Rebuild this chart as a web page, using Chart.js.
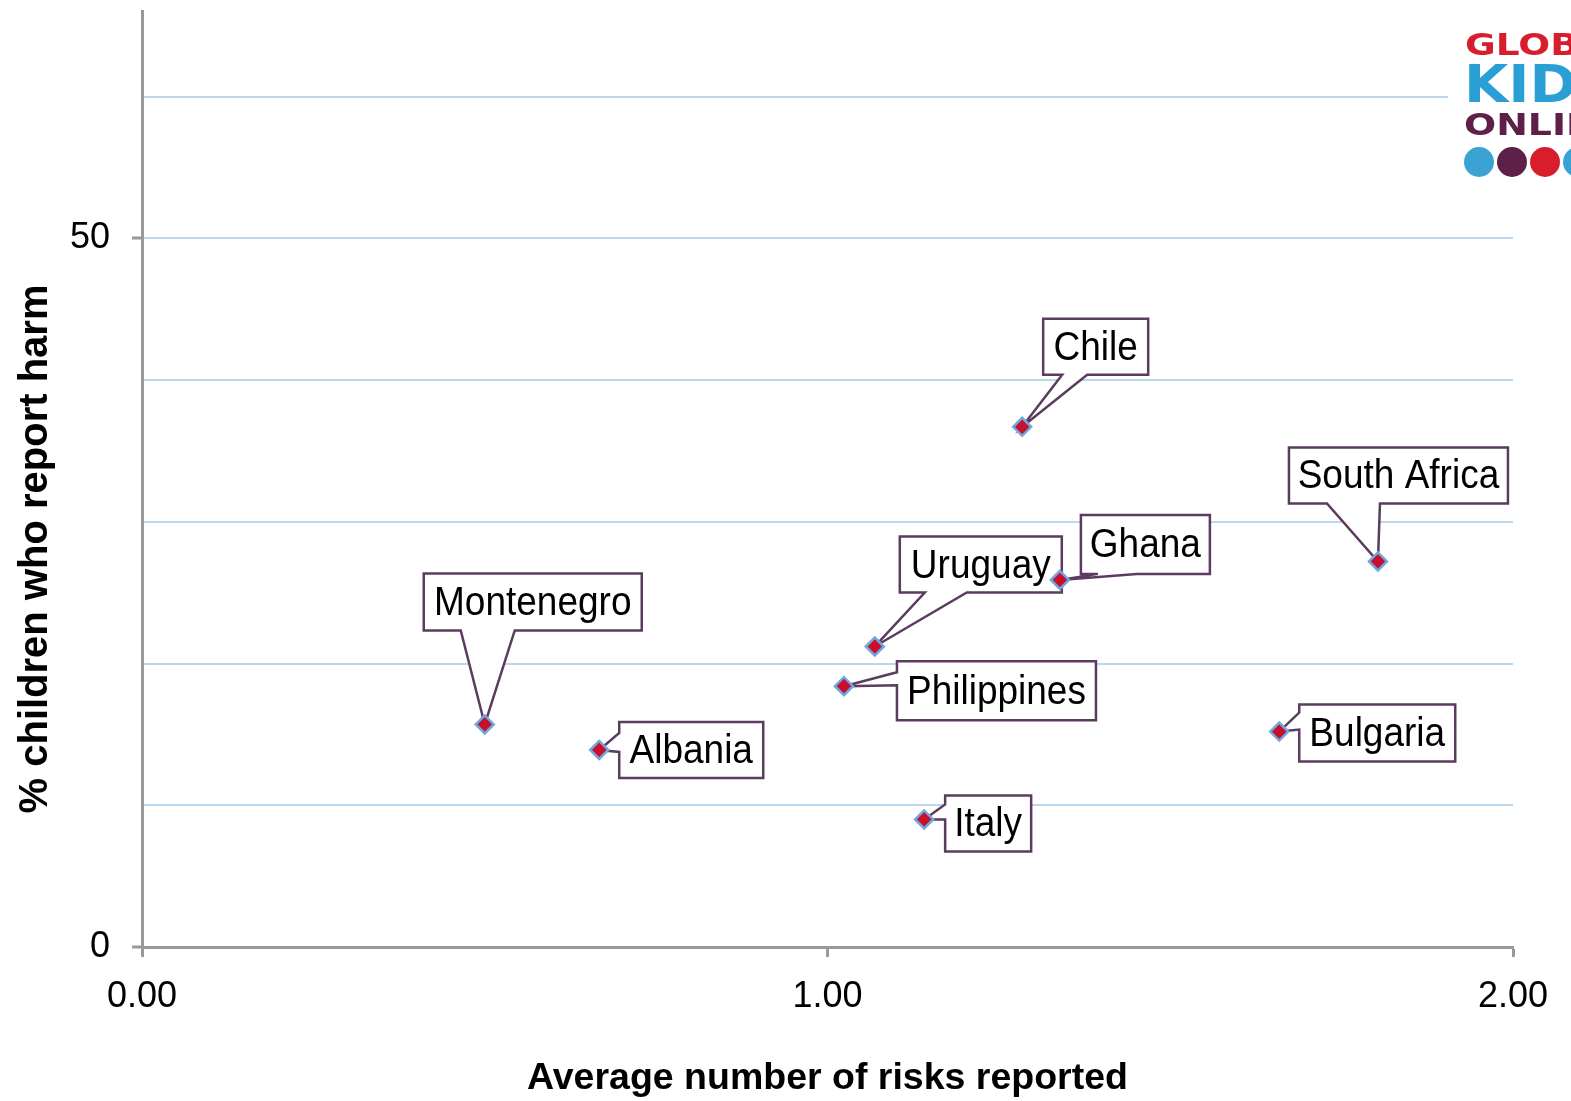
<!DOCTYPE html>
<html>
<head>
<meta charset="utf-8">
<script src="https://cdn.jsdelivr.net/npm/chart.js@4/dist/chart.umd.min.js"></script>
<style>
  html, body { margin: 0; padding: 0; background: #fff; }
  #wrap { width: 1571px; height: 1101px; }
</style>
</head>
<body>
<div id="wrap"><canvas id="chart"></canvas></div>
<script>
// Data
const countries = ['Chile', 'South Africa', 'Ghana', 'Uruguay', 'Philippines', 'Montenegro', 'Albania', 'Bulgaria', 'Italy'];
const avgRisks = [1.284, 1.803, 1.339, 1.069, 1.024, 0.500, 0.667, 1.659, 1.141];
const pctHarm = [36.7, 27.2, 25.9, 21.2, 18.4, 15.7, 13.9, 15.2, 9.0];
const yTickLabels = [0, 50];
const xTickLabels = [0, 1, 2];
const yTitle = '% children who report harm';
const xTitle = 'Average number of risks reported';

// Callout boxes: offset from the point in px, size, side the pointer leaves from, pointer base
const callouts = [
  { dx: 21, dy: -108, w: 105, h: 56, side: 'bottom', a: 19, b: 44 },
  { dx: -89, dy: -114, w: 219, h: 56, side: 'bottom', a: 38, b: 91 },
  { dx: 21, dy: -65, w: 129, h: 59, side: 'bottom', a: 17, b: 56 },
  { dx: 25, dy: -110, w: 162, h: 56, side: 'bottom', a: 25, b: 67 },
  { dx: 53, dy: -25, w: 199, h: 59, side: 'left', a: 11, b: 24 },
  { dx: -61, dy: -151, w: 218, h: 57, side: 'bottom', a: 37, b: 91 },
  { dx: 20, dy: -28, w: 144, h: 56, side: 'left', a: 11, b: 30 },
  { dx: 20, dy: -27, w: 156, h: 57, side: 'left', a: 8, b: 25 },
  { dx: 21, dy: -24, w: 86, h: 56, side: 'left', a: 9, b: 24 },
];

const FONT = '"Liberation Sans", Arial, Helvetica, sans-serif';
const axisGray = '#999999';

function stretchedText(ctx, text, x, y, sx, sy) {
  ctx.save();
  ctx.translate(x, y);
  ctx.scale(sx, sy || 1);
  ctx.fillText(text, 0, 0);
  ctx.restore();
}

const calloutPlugin = {
  id: 'callouts',
  beforeDatasetsDraw(chart) {
    const ctx = chart.ctx;
    const meta = chart.getDatasetMeta(0);
    ctx.save();
    ctx.font = '37px ' + FONT;
    ctx.lineWidth = 2.5;
    ctx.strokeStyle = '#5b3b5f';
    meta.data.forEach((pt, i) => {
      const c = callouts[i];
      const px = pt.x, py = pt.y;
      const L = px + c.dx, T = py + c.dy, W = c.w, H = c.h;
      ctx.beginPath();
      ctx.moveTo(L, T);
      ctx.lineTo(L + W, T);
      ctx.lineTo(L + W, T + H);
      if (c.side === 'bottom') {
        ctx.lineTo(L + c.b, T + H);
        ctx.lineTo(px, py);
        ctx.lineTo(L + c.a, T + H);
        ctx.lineTo(L, T + H);
      } else {
        ctx.lineTo(L, T + H);
        ctx.lineTo(L, T + c.b);
        ctx.lineTo(px, py);
        ctx.lineTo(L, T + c.a);
      }
      ctx.closePath();
      ctx.fillStyle = '#ffffff';
      ctx.fill();
      ctx.stroke();
      ctx.fillStyle = '#000000';
      ctx.textAlign = 'center';
      ctx.textBaseline = 'middle';
      stretchedText(ctx, countries[i], L + W / 2, T + H / 2 + 2, 1, 1.08);
    });
    ctx.restore();
  },
  afterDraw(chart) {
    const ctx = chart.ctx;
    ctx.save();
    // y axis title, placed lower than the plot centre as in the original
    ctx.fillStyle = '#000';
    ctx.font = 'bold 40px ' + FONT;
    ctx.textAlign = 'center';
    ctx.textBaseline = 'middle';
    ctx.translate(36, 549);
    ctx.rotate(-Math.PI / 2);
    ctx.fillText(yTitle, 0, 0);
    ctx.restore();

    // Global Kids Online logo, cut off at the right edge
    ctx.save();
    ctx.fillStyle = '#ffffff';
    ctx.fillRect(1448, 10, 130, 176);
    ctx.textBaseline = 'alphabetic';
    ctx.textAlign = 'left';
    ctx.fillStyle = '#d81e2c';
    ctx.font = 'bold 30px "DejaVu Sans", ' + FONT;
    stretchedText(ctx, 'GLOBAL', 1465, 55, 1.25);
    ctx.fillStyle = '#2a9fd6';
    ctx.font = 'bold 51px "DejaVu Sans", ' + FONT;
    stretchedText(ctx, 'KIDS', 1464, 102, 1.12);
    ctx.fillStyle = '#5e2048';
    ctx.font = 'bold 31px "DejaVu Sans", ' + FONT;
    stretchedText(ctx, 'ONLINE', 1464, 135, 1.22);
    const dots = ['#3ba3d3', '#5e2048', '#d81e2c', '#3ba3d3'];
    dots.forEach((col, k) => {
      ctx.beginPath();
      ctx.arc(1479 + k * 33, 162, 15, 0, Math.PI * 2);
      ctx.fillStyle = col;
      ctx.fill();
    });
    ctx.restore();
  }
};

new Chart(document.getElementById('chart'), {
  type: 'scatter',
  data: {
    datasets: [{
      label: 'Countries',
      data: countries.map((c, i) => ({ x: avgRisks[i], y: pctHarm[i] })),
      pointStyle: 'rectRot',
      pointRadius: 9,
      pointHoverRadius: 9,
      backgroundColor: '#c8102e',
      borderColor: '#6fa8dc',
      borderWidth: 2.5,
    }],
  },
  options: {
    responsive: true,
    maintainAspectRatio: false,
    animation: false,
    layout: { padding: { top: 10, right: 58, left: 0, bottom: 0 } },
    plugins: {
      legend: { display: false },
      tooltip: { enabled: false },
    },
    scales: {
      x: {
        type: 'linear',
        min: 0,
        max: 2,
        afterBuildTicks: (s) => { s.ticks = xTickLabels.map(v => ({ value: v })); },
        afterFit: (s) => { s.height = 154; },
        ticks: {
          font: { family: FONT, size: 36 },
          color: '#000',
          padding: 18,
          callback: (v) => Number(v).toFixed(2),
        },
        grid: { drawOnChartArea: false, tickLength: 10, tickColor: axisGray, tickWidth: 3 },
        border: { color: axisGray, width: 3 },
        title: {
          display: true,
          text: xTitle,
          font: { family: FONT, size: 37.5, weight: 'bold' },
          color: '#000',
          padding: { top: 20, bottom: 0 },
        },
      },
      y: {
        type: 'linear',
        min: 0,
        max: 66,
        afterBuildTicks: (s) => {
          const t = [];
          for (let v = 0; v <= 60; v += 10) t.push({ value: v });
          s.ticks = t;
        },
        afterFit: (s) => { s.width = 142; s.paddingTop = 0; s.paddingBottom = 0; },
        ticks: {
          font: { family: FONT, size: 36 },
          color: '#000',
          padding: 22,
          callback: (v) => (yTickLabels.includes(v) ? String(v) : ''),
        },
        grid: {
          color: (c) => (c.tick && c.tick.value === 0 ? 'rgba(0,0,0,0)' : '#bcd6ee'),
          lineWidth: 2,
          tickLength: 10,
          tickWidth: 3,
          tickColor: (c) => (c.tick && yTickLabels.includes(c.tick.value) ? axisGray : 'rgba(0,0,0,0)'),
        },
        border: { color: axisGray, width: 3 },
      },
    },
  },
  plugins: [calloutPlugin],
});
</script>
</body>
</html>
